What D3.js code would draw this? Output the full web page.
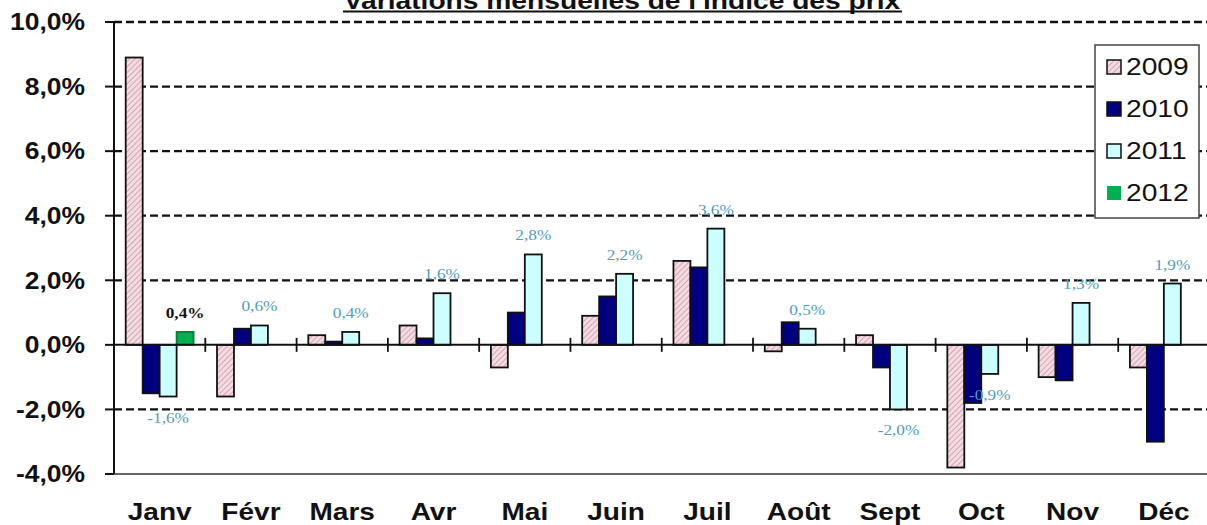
<!DOCTYPE html>
<html>
<head>
<meta charset="utf-8">
<script src="https://cdn.jsdelivr.net/npm/d3@7"></script>
<style>
  body { margin: 0; background: #fff; }
  text { font-family: "Liberation Sans", Arial, sans-serif; }
</style>
</head>
<body>
<div id="chart"></div>
<script>
// data
const months = ["Janv", "Févr", "Mars", "Avr", "Mai", "Juin", "Juil", "Août", "Sept", "Oct", "Nov", "Déc"];
const years = ["2009", "2010", "2011", "2012"];
const v2009 = [8.9, -1.6, 0.3, 0.6, -0.7, 0.9, 2.6, -0.2, 0.3, -3.8, -1.0, -0.7];
const v2010 = [-1.5, 0.5, 0.1, 0.2, 1.0, 1.5, 2.4, 0.7, -0.7, -1.8, -1.1, -3.0];
const v2011 = [-1.6, 0.6, 0.4, 1.6, 2.8, 2.2, 3.6, 0.5, -2.0, -0.9, 1.3, 1.9];
const v2012 = [0.4, null, null, null, null, null, null, null, null, null, null, null];
const yTicks = [10, 8, 6, 4, 2, 0, -2, -4];
const title = "Variations mensuelles de l'indice des prix";

const seriesValues = { "2009": v2009, "2010": v2010, "2011": v2011, "2012": v2012 };
const labelled = ["2011", "2012"];

const W = 1207, H = 525;
const svg = d3.select("#chart").append("svg")
    .attr("width", W)
    .attr("height", H);

const defs = svg.append("defs");
const hatch = defs.append("pattern")
    .attr("id", "hatch")
    .attr("patternUnits", "userSpaceOnUse")
    .attr("width", 4)
    .attr("height", 4)
    .attr("patternTransform", "rotate(45)");
hatch.append("rect").attr("width", 4).attr("height", 4).attr("fill", "#f5dce3");
hatch.append("line").attr("x1", 0).attr("y1", 0).attr("x2", 0).attr("y2", 4)
    .attr("stroke", "#c68a9d").attr("stroke-width", 1.4);

const fills = { "2009": "url(#hatch)", "2010": "#000080", "2011": "#ccffff", "2012": "#00b050" };

const x = d3.scaleBand().domain(months).range([114, 1209.5]).paddingInner(0).paddingOuter(0);
const xs = d3.scaleBand().domain(years).range([0, x.bandwidth()]).paddingInner(0).paddingOuter(0.69);
const y = d3.scaleLinear().domain([-4, 10]).range([474, 22]);

// french style: comma decimals, plain hyphen for minus
const fmt = v => d3.format(".1f")(v).replace(".", ",").replace("\u2212", "-") + "%";

// stretched text helper (source picture is wider than tall)
function place(sel, px, py, sx) {
    sel.attr("transform", `translate(${px},${py}) scale(${sx},1)`);
}

// grid lines
svg.append("g").selectAll("line")
    .data(yTicks.filter(t => t !== 0 && t !== -4))
    .enter().append("line")
    .attr("x1", 114).attr("x2", W)
    .attr("y1", d => y(d)).attr("y2", d => y(d))
    .attr("stroke", "#111")
    .attr("stroke-width", 2.3)
    .attr("stroke-dasharray", "8,4");

// bottom border of plot
svg.append("line")
    .attr("x1", 105).attr("x2", W)
    .attr("y1", y(-4)).attr("y2", y(-4))
    .attr("stroke", "#666").attr("stroke-width", 2);

// bars
const groups = svg.append("g").selectAll("g")
    .data(months)
    .enter().append("g")
    .attr("transform", d => `translate(${x(d)},0)`);

groups.selectAll("rect")
    .data((m, i) => years.map(yr => ({ year: yr, value: seriesValues[yr][i] })).filter(d => d.value !== null))
    .enter().append("rect")
    .attr("x", d => xs(d.year))
    .attr("width", xs.bandwidth())
    .attr("y", d => y(Math.max(0, d.value)))
    .attr("height", d => Math.abs(y(d.value) - y(0)))
    .attr("fill", d => fills[d.year])
    .attr("stroke", d => d.year === "2012" ? "#0a7a3a" : "#111")
    .attr("stroke-width", 1.8);

// data labels (2011 and 2012)
groups.selectAll("text")
    .data((m, i) => labelled.map(yr => ({ year: yr, value: seriesValues[yr][i] })).filter(d => d.value !== null))
    .enter().append("text")
    .attr("text-anchor", "middle")
    .style("font-family", "'Liberation Serif', 'Times New Roman', serif")
    .style("font-size", "15px")
    .style("font-weight", d => d.year === "2012" ? "bold" : "normal")
    .attr("fill", d => d.year === "2012" ? "#111" : "#539bbd")
    .text(d => fmt(d.value))
    .each(function (d) {
        const cx = xs(d.year) + xs.bandwidth() / 2;
        const cy = d.value >= 0 ? y(d.value) - 14 : y(d.value) + 26;
        place(d3.select(this), cx, cy, 1.15);
    });

// y axis
svg.append("line")
    .attr("x1", 114).attr("x2", 114)
    .attr("y1", y(10)).attr("y2", y(-4))
    .attr("stroke", "#111").attr("stroke-width", 2);

svg.append("g").selectAll("line")
    .data(yTicks)
    .enter().append("line")
    .attr("x1", 105).attr("x2", 114)
    .attr("y1", d => y(d)).attr("y2", d => y(d))
    .attr("stroke", "#111").attr("stroke-width", 2);

svg.append("g").selectAll("text")
    .data(yTicks)
    .enter().append("text")
    .attr("text-anchor", "end")
    .attr("dy", "0.36em")
    .style("font-size", "23px")
    .style("font-weight", "bold")
    .attr("fill", "#111")
    .text(d => fmt(d))
    .each(function (d) { place(d3.select(this), 85, y(d), 1.15); });

// zero line with category ticks
svg.append("line")
    .attr("x1", 114).attr("x2", W)
    .attr("y1", y(0)).attr("y2", y(0))
    .attr("stroke", "#111").attr("stroke-width", 2);

svg.append("g").selectAll("line")
    .data(months.slice(1))
    .enter().append("line")
    .attr("x1", d => x(d)).attr("x2", d => x(d))
    .attr("y1", y(0) - 7).attr("y2", y(0) + 7)
    .attr("stroke", "#111").attr("stroke-width", 1.8);

// month labels
svg.append("g").selectAll("text")
    .data(months)
    .enter().append("text")
    .attr("text-anchor", "middle")
    .style("font-size", "23px")
    .style("font-weight", "bold")
    .attr("fill", "#111")
    .text(d => d)
    .each(function (d) { place(d3.select(this), x(d) + x.bandwidth() / 2, 520, 1.22); });

// title, cut off at the top as in the source picture
const tt = svg.append("text")
    .attr("text-anchor", "middle")
    .style("font-size", "23.5px")
    .style("font-weight", "bold")
    .attr("fill", "#111")
    .text(title);
place(tt, 622, 9, 1.2);
svg.append("line")
    .attr("x1", 343).attr("x2", 902)
    .attr("y1", 11.5).attr("y2", 11.5)
    .attr("stroke", "#111").attr("stroke-width", 2);

// legend
const legend = svg.append("g").attr("transform", "translate(1095,45)");
legend.append("rect")
    .attr("width", 104).attr("height", 173)
    .attr("fill", "#fff")
    .attr("stroke", "#444").attr("stroke-width", 1.5);

const rowY = d3.scalePoint().domain(years).range([22, 148]);
legend.selectAll("rect.sw")
    .data(years)
    .enter().append("rect")
    .attr("class", "sw")
    .attr("x", 12).attr("y", d => rowY(d) - 7)
    .attr("width", 14).attr("height", 14)
    .attr("fill", d => fills[d])
    .attr("stroke", d => d === "2012" ? "none" : "#111")
    .attr("stroke-width", 1.5);

legend.selectAll("text")
    .data(years)
    .enter().append("text")
    .attr("dy", "0.36em")
    .style("font-size", "23.5px")
    .attr("fill", "#111")
    .text(d => d)
    .each(function (d) { place(d3.select(this), 31, rowY(d), 1.2); });
</script>
</body>
</html>
